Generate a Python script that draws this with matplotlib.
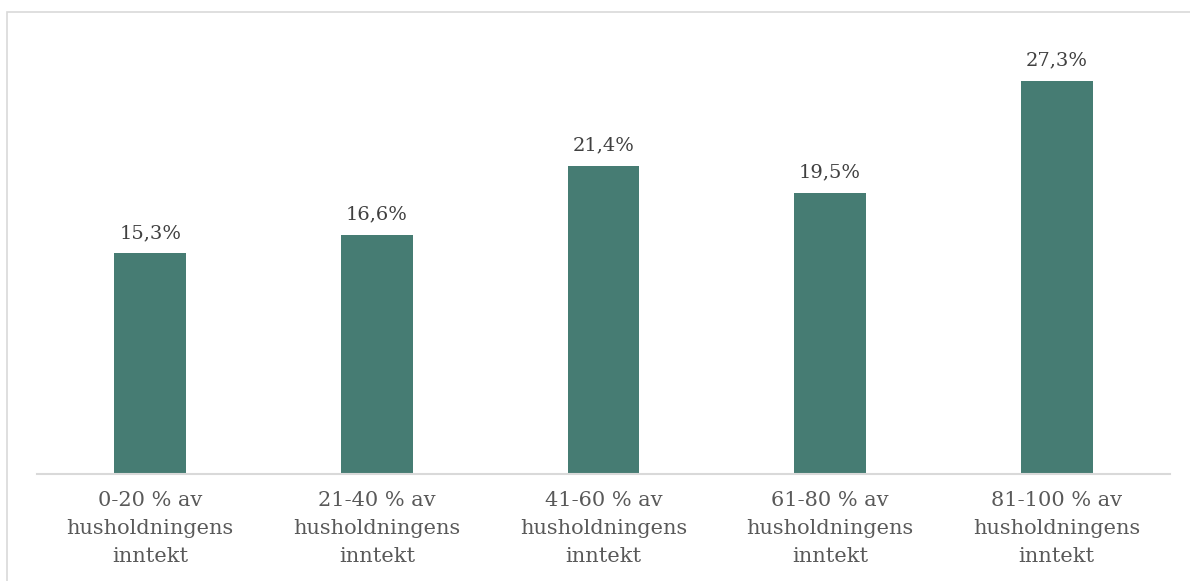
import matplotlib.pyplot as plt
from matplotlib.patches import Rectangle

# Data
kategorier = ["0-20 % av\nhusholdningens\ninntekt",
              "21-40 % av\nhusholdningens\ninntekt",
              "41-60 % av\nhusholdningens\ninntekt",
              "61-80 % av\nhusholdningens\ninntekt",
              "81-100 % av\nhusholdningens\ninntekt"]
andeler = [15.3, 16.6, 21.4, 19.5, 27.3]
etiketter = ["15,3%", "16,6%", "21,4%", "19,5%", "27,3%"]

plt.rcParams['font.family'] = ['DejaVu Serif']

fig = plt.figure(figsize=(11.9, 5.81), dpi=100)
ax = fig.add_axes([37/1190, 1 - 474/581, (1170 - 37)/1190, (474 - 20)/581])

x = range(len(andeler))
bars = ax.bar(x, andeler, width=0.317, color="#467c73")

for xi, v, t in zip(x, andeler, etiketter):
    ax.annotate(t, (xi, v), xytext=(0, 8), textcoords="offset points",
                ha="center", va="bottom", fontsize=14, color="#404040")

ax.set_xlim(-0.5, len(andeler) - 0.5)
ax.set_ylim(0, 31.5)
ax.set_xticks(list(x))
ax.set_xticklabels(kategorier, fontsize=15, color="#595959", linespacing=1.6)
ax.tick_params(axis="x", length=0, pad=12)
ax.set_yticks([])
for s in ["top", "right", "left"]:
    ax.spines[s].set_visible(False)
ax.spines["bottom"].set_color("#d9d9d9")
ax.spines["bottom"].set_linewidth(1.5)

# ramme rundt diagrammet
fig.patches.append(Rectangle((7/1190, -0.01), 1.0, 1 - 12/581 + 0.01,
                             transform=fig.transFigure, fill=False,
                             edgecolor="#d9d9d9", linewidth=1.2))

fig.savefig("out.png", dpi=100)
